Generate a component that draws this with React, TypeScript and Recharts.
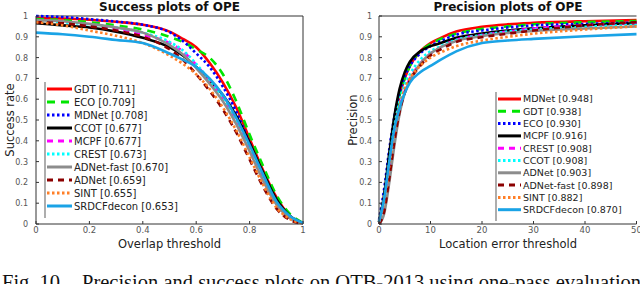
import React from 'react'
import { LineChart, Line, XAxis, YAxis, ReferenceLine } from 'recharts'

// success plot: overlap thresholds
const overlapX = [0, 0.1, 0.2, 0.3, 0.4, 0.5, 0.55, 0.6, 0.65, 0.7, 0.75, 0.8, 0.85, 0.9, 0.95, 1]
const succGDT = [0.99, 0.988, 0.982, 0.972, 0.958, 0.925, 0.89, 0.85, 0.775, 0.68, 0.56, 0.41, 0.26, 0.13, 0.04, 0.005]
const succECO = [0.985, 0.98, 0.97, 0.955, 0.935, 0.9, 0.875, 0.84, 0.8, 0.72, 0.59, 0.43, 0.28, 0.14, 0.05, 0.005]
const succMDNet = [1.0, 0.995, 0.985, 0.973, 0.958, 0.922, 0.88, 0.82, 0.755, 0.66, 0.54, 0.39, 0.24, 0.11, 0.035, 0.003]
const succCCOT = [0.965, 0.955, 0.945, 0.925, 0.895, 0.85, 0.81, 0.755, 0.69, 0.62, 0.52, 0.39, 0.25, 0.12, 0.04, 0.004]
const succMCPF = [0.975, 0.968, 0.955, 0.94, 0.91, 0.87, 0.83, 0.765, 0.69, 0.6, 0.49, 0.36, 0.22, 0.1, 0.03, 0.004]
const succCREST = [0.975, 0.97, 0.96, 0.945, 0.92, 0.876, 0.835, 0.77, 0.69, 0.6, 0.49, 0.36, 0.22, 0.1, 0.03, 0.004]
const succADNetFast = [0.98, 0.975, 0.962, 0.945, 0.92, 0.86, 0.815, 0.75, 0.675, 0.59, 0.48, 0.35, 0.21, 0.095, 0.03, 0.003]
const succADNet = [0.97, 0.965, 0.95, 0.93, 0.9, 0.84, 0.79, 0.72, 0.64, 0.55, 0.44, 0.31, 0.18, 0.075, 0.02, 0.002]
const succSINT = [0.97, 0.955, 0.93, 0.905, 0.87, 0.81, 0.77, 0.72, 0.65, 0.56, 0.45, 0.32, 0.19, 0.08, 0.025, 0.002]
const succSRDCFdecon = [0.92, 0.912, 0.9, 0.885, 0.87, 0.82, 0.79, 0.755, 0.7, 0.62, 0.51, 0.38, 0.24, 0.11, 0.04, 0.005]

const successNames = ['GDT', 'ECO', 'MDNet', 'CCOT', 'MCPF', 'CREST', 'ADNet-fast', 'ADNet', 'SINT', 'SRDCFdecon']
const successScores = ['0.711', '0.709', '0.708', '0.677', '0.677', '0.673', '0.670', '0.659', '0.655', '0.653']
const successValues = [succGDT, succECO, succMDNet, succCCOT, succMCPF, succCREST, succADNetFast, succADNet, succSINT, succSRDCFdecon]

// precision plot: location error thresholds
const errorX = [0, 1, 2, 3, 4, 5, 6, 8, 10, 12, 15, 20, 25, 30, 40, 50]
const precMDNet = [0.01, 0.13, 0.32, 0.5, 0.62, 0.7, 0.76, 0.83, 0.87, 0.895, 0.925, 0.948, 0.96, 0.967, 0.975, 0.98]
const precGDT = [0.01, 0.13, 0.32, 0.5, 0.62, 0.7, 0.76, 0.83, 0.865, 0.89, 0.915, 0.938, 0.95, 0.96, 0.97, 0.976]
const precECO = [0.02, 0.17, 0.36, 0.52, 0.63, 0.71, 0.76, 0.82, 0.855, 0.88, 0.91, 0.93, 0.945, 0.955, 0.962, 0.968]
const precMCPF = [0.01, 0.14, 0.34, 0.52, 0.65, 0.73, 0.78, 0.83, 0.855, 0.87, 0.895, 0.916, 0.93, 0.94, 0.955, 0.965]
const precCREST = [0.01, 0.1, 0.27, 0.44, 0.56, 0.64, 0.7, 0.77, 0.82, 0.85, 0.885, 0.908, 0.925, 0.94, 0.955, 0.968]
const precCCOT = [0.01, 0.12, 0.3, 0.47, 0.59, 0.67, 0.72, 0.79, 0.83, 0.855, 0.885, 0.908, 0.925, 0.935, 0.948, 0.958]
const precADNet = [0.0, 0.05, 0.2, 0.38, 0.53, 0.63, 0.69, 0.77, 0.82, 0.85, 0.88, 0.903, 0.918, 0.928, 0.94, 0.95]
const precADNetFast = [0.0, 0.06, 0.22, 0.4, 0.54, 0.63, 0.69, 0.76, 0.81, 0.84, 0.875, 0.898, 0.915, 0.93, 0.955, 0.97]
const precSINT = [0.01, 0.11, 0.28, 0.45, 0.57, 0.65, 0.7, 0.76, 0.8, 0.825, 0.855, 0.882, 0.9, 0.915, 0.935, 0.95]
const precSRDCFdecon = [0.01, 0.12, 0.3, 0.46, 0.56, 0.63, 0.68, 0.73, 0.76, 0.79, 0.83, 0.87, 0.882, 0.89, 0.903, 0.913]

const precisionNames = ['MDNet', 'GDT', 'ECO', 'MCPF', 'CREST', 'CCOT', 'ADNet', 'ADNet-fast', 'SINT', 'SRDCFdecon']
const precisionScores = ['0.948', '0.938', '0.930', '0.916', '0.908', '0.908', '0.903', '0.898', '0.882', '0.870']
const precisionValues = [precMDNet, precGDT, precECO, precMCPF, precCREST, precCCOT, precADNet, precADNetFast, precSINT, precSRDCFdecon]

const successTicksX = [0, 0.2, 0.4, 0.6, 0.8, 1]
const precisionTicksX = [0, 10, 20, 30, 40, 50]
const ticksY = [0, 0.1, 0.2, 0.3, 0.4, 0.5, 0.6, 0.7, 0.8, 0.9, 1]

// line style per legend rank (same in both plots)
const rankStyles: { color: string; dash?: string }[] = [
  { color: '#ff0000' },
  { color: '#00e600', dash: '8 6' },
  { color: '#0000ff', dash: '2.5 2.5' },
  { color: '#000000' },
  { color: '#ff00ff', dash: '6 5' },
  { color: '#00ffff', dash: '2.5 2.5' },
  { color: '#8c8c8c' },
  { color: '#8b0000', dash: '6 5' },
  { color: '#ff7f27', dash: '2.5 2.5' },
  { color: '#1aa3e6' },
]

const FONT = 'DejaVu Sans, sans-serif'
const TICK_COLOR = '#555'
const AXIS_COLOR = '#333'

function buildRows(xs: number[], values: number[][]) {
  return xs.map((x, i) => {
    const row: Record<string, number> = { x }
    values.forEach((v, k) => {
      row[`s${k}`] = v[i]
    })
    return row
  })
}

const successRows = buildRows(overlapX, successValues)
const precisionRows = buildRows(errorX, precisionValues)

const makeXTick = (axisY: number) => (props: any) => {
  const { x, payload } = props
  return (
    <g>
      <line x1={x} x2={x} y1={axisY} y2={axisY - 3} stroke={AXIS_COLOR} strokeWidth={1} />
      <text x={x} y={axisY + 9} textAnchor="middle" fontSize={8.5} fontFamily={FONT} fill={TICK_COLOR}>
        {String(payload.value)}
      </text>
    </g>
  )
}

const makeYTick = (axisX: number, gap: number) => (props: any) => {
  const { y, payload } = props
  return (
    <g>
      <line x1={axisX} x2={axisX + 3} y1={y} y2={y} stroke={AXIS_COLOR} strokeWidth={1} />
      <text x={axisX - gap} y={y + 3} textAnchor="end" fontSize={8} fontFamily={FONT} fill={TICK_COLOR}>
        {String(payload.value)}
      </text>
    </g>
  )
}

function LegendBox({ names, scores, x, y, step, fontSize, sampleW }: {
  names: string[]; scores: string[]; x: number; y: number; step: number; fontSize: number; sampleW: number
}) {
  const h = step * names.length + 6
  return (
    <g>
      <rect x={x} y={y} width={sampleW + 125} height={h} fill="#fff" />
      <line x1={x} x2={x} y1={y} y2={y + h} stroke="#777" strokeWidth={1.2} />
      {names.map((n, i) => {
        const cy = y + 7 + step * i
        const st = rankStyles[i]
        return (
          <g key={n}>
            <line x1={x + 2} x2={x + 2 + sampleW} y1={cy} y2={cy} stroke={st.color} strokeWidth={3} strokeDasharray={st.dash} />
            <text x={x + 4 + sampleW} y={cy + fontSize * 0.36} fontSize={fontSize} fontFamily={FONT} fill="#222">
              {`${n} [${scores[i]}]`}
            </text>
          </g>
        )
      })}
    </g>
  )
}

export default function App() {
  return (
    <div style={{ position: 'absolute', left: 0, top: 0, width: 640, height: 284, overflow: 'hidden', background: '#fff' }}>
      <div style={{ position: 'absolute', left: 0, top: 0 }}>
        <LineChart width={320} height={260} data={successRows} margin={{ top: 16, right: 17, bottom: 0, left: 0 }}>
          <XAxis dataKey="x" type="number" domain={[0, 1]} ticks={successTicksX} height={36}
            axisLine={{ stroke: AXIS_COLOR }} tickLine={false} tick={makeXTick(224)} interval={0} />
          <YAxis type="number" domain={[0, 1]} ticks={ticksY} width={36}
            axisLine={{ stroke: AXIS_COLOR }} tickLine={false} tick={makeYTick(36, 8)} interval={0} />
          <ReferenceLine y={1} stroke={AXIS_COLOR} strokeWidth={1} />
          <ReferenceLine x={1} stroke={AXIS_COLOR} strokeWidth={1} />
          {successNames.map((n, i) => (
            <Line key={n} dataKey={`s${i}`} name={n} type="monotone" dot={false} isAnimationActive={false}
              stroke={rankStyles[i].color} strokeWidth={2.6} strokeDasharray={rankStyles[i].dash} />
          ))}
        </LineChart>
      </div>
      <div style={{ position: 'absolute', left: 320, top: 0 }}>
        <LineChart width={320} height={260} data={precisionRows} margin={{ top: 16, right: 3.5, bottom: 0, left: 0 }}>
          <XAxis dataKey="x" type="number" domain={[0, 50]} ticks={precisionTicksX} height={36}
            axisLine={{ stroke: AXIS_COLOR }} tickLine={false} tick={makeXTick(224)} interval={0} />
          <YAxis type="number" domain={[0, 1]} ticks={ticksY} width={59}
            axisLine={{ stroke: AXIS_COLOR }} tickLine={false} tick={makeYTick(59, 7)} interval={0} />
          <ReferenceLine y={1} stroke={AXIS_COLOR} strokeWidth={1} />
          {precisionNames.map((n, i) => (
            <Line key={n} dataKey={`s${i}`} name={n} type="monotone" dot={false} isAnimationActive={false}
              stroke={rankStyles[i].color} strokeWidth={2.6} strokeDasharray={rankStyles[i].dash} />
          ))}
        </LineChart>
      </div>
      <svg width={640} height={284} style={{ position: 'absolute', left: 0, top: 0, pointerEvents: 'none' }}>
        <text x={169.5} y={11} textAnchor="middle" fontSize={12} fontWeight="bold" fontFamily={FONT} fill="#111">
          Success plots of OPE
        </text>
        <text x={508} y={11} textAnchor="middle" fontSize={12} fontWeight="bold" fontFamily={FONT} fill="#111">
          Precision plots of OPE
        </text>
        <text x={169.5} y={248} textAnchor="middle" fontSize={11.5} fontFamily={FONT} fill="#222">
          Overlap threshold
        </text>
        <text x={508} y={248} textAnchor="middle" fontSize={11.5} fontFamily={FONT} fill="#222">
          Location error threshold
        </text>
        <text transform="translate(14,120) rotate(-90)" textAnchor="middle" fontSize={11.5} fontFamily={FONT} fill="#222">
          Success rate
        </text>
        <text transform="translate(357,120) rotate(-90)" textAnchor="middle" fontSize={11.5} fontFamily={FONT} fill="#222">
          Precision
        </text>
        <LegendBox names={successNames} scores={successScores} x={45} y={82} step={13} fontSize={10} sampleW={25} />
        <LegendBox names={precisionNames} scores={precisionScores} x={496} y={92} step={12.3} fontSize={9.5} sampleW={23} />
        <text x={2} y={289} fontSize={20.5} fontFamily="Liberation Serif, serif" fill="#111">Fig. 10.</text>
        <text x={82} y={289} fontSize={20.5} fontFamily="Liberation Serif, serif" fill="#111">
          Precision and success plots on OTB-2013 using one-pass evaluation
        </text>
      </svg>
    </div>
  )
}
